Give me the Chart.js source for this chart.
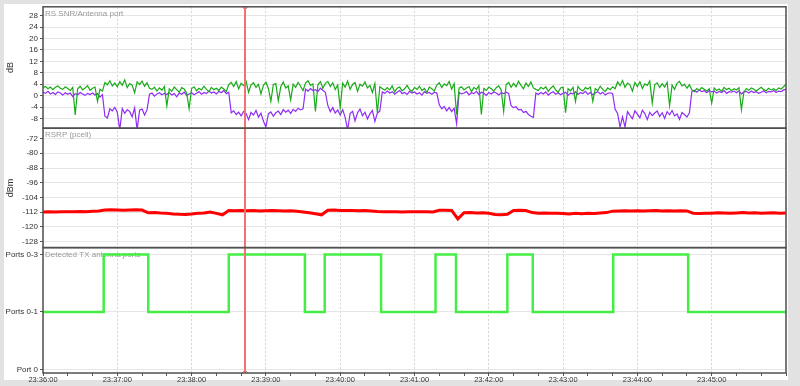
<!DOCTYPE html>
<html>
<head>
<meta charset="utf-8">
<script src="https://cdn.jsdelivr.net/npm/chart.js@4"></script>
<style>
    body { margin: 0; background: #e2e2e2; }
    canvas { display: block; }
</style>
</head>
<body>
<canvas id="trace" width="800" height="386"></canvas>
<script>
// x axis: seconds since 23:36:00
const timeLabels = ['23:36:00', '23:37:00', '23:38:00', '23:39:00', '23:40:00',
    '23:41:00', '23:42:00', '23:43:00', '23:44:00', '23:45:00'];
const snrTicks = [-8, -4, 0, 4, 8, 12, 16, 20, 24, 28];
const rsrpTicks = [-128, -120, -112, -104, -96, -88, -80, -72];
const portLabels = ['Port 0', 'Ports 0-1', 'Ports 0-3'];

const SNR_STEP = 2;   // seconds between snr samples
const RSRP_STEP = 5;  // seconds between rsrp samples

// RS SNR, antenna port 0 (green)
const snrPort0 = [
    2.8, 3.2, 2.4, 3.0, 2.1, 2.9, 3.4, 2.6, 2.2, 3.1,
    2.5, 1.8, 2.9, -6.8, 2.4, 3.3, 2.0, 2.7, 3.5, 1.9,
    2.6, 3.0, -2.0, 2.2, 1.6, 4.6, 3.8, 5.2, 3.4, 4.4,
    3.1, 4.9, 3.6, 5.5, 2.8, 4.2, 3.7, 1.0, 4.8, 3.9,
    5.1, 3.3, 4.5, 2.6, 2.2, 3.0, 1.6, 2.7, 1.9, 3.2,
    -3.6, 2.4, 1.5, 3.0, 2.1, 1.2, 2.8, 2.3, 0.9, -4.6,
    2.5, 3.1, 1.7, 2.6, 2.0, 3.3, 2.2, 1.4, 2.9, 2.1,
    2.6, 1.8, 3.0, 2.3, 1.5, 3.9, 4.6, 3.2, 4.9, 2.4,
    4.3, 3.5, 5.0, 1.2, 3.8, 4.5, 2.9, 4.0, 0.6, 3.6,
    4.7, 2.5, -2.0, 3.9, 4.2, -1.8, 3.1, 4.8, 2.7, 3.4,
    -1.5, 4.0, 2.9, 4.6, 3.3, 1.8, 4.4, 5.2, 3.6, 4.1,
    -5.5, 3.8, 4.9, 2.6, 4.3, 5.0, 3.2, 4.5, 2.1, 3.7,
    -4.3, 4.4, 3.0, 5.1, 2.2, 3.9, 4.6, 1.5, 4.0, 3.3,
    4.8, 2.7, 3.6, 1.1, 4.2, -6.0, 3.1, 2.5, 1.9, 2.8,
    2.0, 3.4, 1.3, 2.6, 3.0, 1.7, 2.4, 3.6, 2.1, 1.5,
    2.9, 2.2, 3.3, 1.8, 2.5, 1.1, 3.0, 2.4, 1.6, 3.7,
    4.5, 2.8, 4.1, 3.5, 5.0, 2.3, 4.2, -6.6, 2.6, 3.1,
    2.0, 2.7, 3.2, 1.4, 2.9, 2.2, 3.5, -6.6, 2.5, 1.8,
    3.0, 2.4, 1.6, 2.8, 3.4, 2.0, -5.5, 3.9, 4.6, 2.9,
    4.3, 3.1, 5.0, 3.6, 2.4, 4.4, 3.2, 4.8, 2.7, 2.2,
    1.8, 2.9, 2.3, 3.1, 1.5, 2.6, 3.4, 2.0, 1.2, 2.7,
    3.0, -6.0, 2.4, 1.7, 2.9, -2.0, 3.2, 2.1, 1.6, 2.8,
    2.3, 3.0, -2.0, 2.5, 1.8, 3.3, 2.2, 1.4, 2.7, 2.1,
    3.1, 2.4, 4.8, 3.5, 5.3, 2.9, 4.4, 3.8, 1.6, 4.6,
    3.2, 4.9, 2.5, 4.1, 3.6, 5.1, -2.6, 3.9, 4.5, 2.8,
    4.2, 3.0, 4.7, -3.5, 3.7, 2.2, 4.3, 5.0, 3.4, 4.0,
    2.6, 3.8, 2.0, 1.4, 2.5, 1.9, 2.8, 2.2, 1.6, 2.4,
    -2.6, 2.7, 1.8, 2.3, 1.5, 2.9, 2.1, 2.6, 1.7, 2.4,
    2.0, 2.8, -4.9, 1.3, 2.5, 1.9, 2.7, 2.2, 1.6, 2.3,
    2.9, 2.1, 1.7, 2.6, 2.0, 2.4, 1.8, 2.7, 2.3, 3.1,
    4.0
];

// RS SNR, antenna port 1 (purple)
const snrPort1 = [
    1.2, 0.8, 1.5, 0.6, 1.1, 0.4, 1.3, 0.9, 0.2, 1.0,
    0.5, 0.9, -0.3, 0.7, 0.3, 1.1, 0.6, 0.1, 0.8, 0.4,
    0.9, 0.2, 0.7, -0.5, 0.4, -7.2, -7.8, -4.6, -5.3, -4.1,
    -5.8, -12.0, -4.5, -6.2, -4.9, -5.6, -7.4, -4.3, -12.0, -5.1,
    -4.7, -6.8, -5.0, 0.5, 0.9, -0.2, 0.6, 1.0, 0.3, 0.8,
    0.4, 1.1, 0.2, 0.7, -0.4, 0.9, 0.5, 1.2, 0.1, 0.6,
    1.0, 0.3, 0.8, 1.4, 0.5, 1.1, 0.7, 1.6, 0.9, 1.3,
    0.6, 1.5, 1.0, 1.8, 0.7, 1.2, -6.0, -5.3, -6.6, -5.8,
    -7.1, -5.5, -6.3, -8.4, -5.9, -6.8, -5.2, -7.5, -6.1, -8.9,
    -11.0, -6.4, -5.7, -7.2, -6.0, -5.4, -6.6, -4.9, -5.8, -5.1,
    -6.2, -4.8, -5.5, -4.4, -5.0, -4.6, 2.3, 1.6, 2.5, 1.8,
    2.1, 1.4, 2.6, 1.9, 1.2, -3.4, -5.6, -4.2, -6.1, -5.0,
    -6.8, -4.9, -7.6, -12.0, -6.3, -5.5, -8.8, -6.0, -4.7, -7.0,
    -5.8, -8.2, -6.4, -5.2, -9.0, -6.1, -5.4, 1.3, 0.8, 1.6,
    0.9, 1.4, 0.5, 1.2, 1.8, 0.7, 1.1, 0.4, 1.5, 0.9,
    1.3, 0.6, 1.0, 0.2, 1.4, 0.8, 1.1, 0.5, 1.2, 0.9,
    -3.2, -4.6, -3.8, -5.3, -4.1, -5.6, -4.4, -9.8, 1.1, 0.6,
    0.9, 1.4, 0.3, 1.0, 0.7, 1.5, 0.4, 1.2, 0.8, 0.1,
    1.1, 0.6, 1.3, 0.9, 0.2, 1.0, 0.7, 1.2, 0.8, -3.5,
    -4.2, -3.9, -5.0, -4.8, -5.9, -5.5, -6.6, -7.2, -7.6, 0.9,
    0.4, 1.1, 0.6, 1.3, 0.2, 0.9, 1.4, 0.5, 1.0, 0.3,
    0.8, 1.2, 0.1, 0.9, 0.6, 1.3, 0.4, 1.0, 0.7, 1.5,
    0.5, 1.1, 0.3, 0.9, 1.4, 0.6, 1.2, 0.2, 0.8, 1.0,
    0.7, -4.8, -6.2, -11.0, -7.4, -11.0, -5.6, -6.9, -8.1, -5.3,
    -6.5, -7.8, -5.1, -6.3, -8.4, -5.8, -7.0, -6.1, -5.4, -7.3,
    -6.0, -8.0, -5.6, -6.7, -5.2, -7.1, -6.4, -8.3, -5.9, -6.6,
    -7.5, -6.0, 1.5, 1.9, 1.2, 2.0, 1.4, 1.7, 1.0, 1.8,
    1.3, 1.6, 0.9, 1.5, 1.1, 1.8, 0.8, 1.4, 1.2, 1.6,
    1.0, 1.7, 0.6, 1.3, 1.5, 0.9, 1.6, 1.1, 1.4, 0.8,
    1.2, 1.7, 1.0, 1.5, 1.3, 1.8, 1.1, 1.6, 1.4, 2.0,
    2.2
];

// RSRP (pcell), dBm
const rsrp = [
    -111.9, -111.8, -111.9, -111.7, -111.8, -111.7, -111.6, -111.7, -111.5, -111.3, -110.8, -110.7,
    -110.8, -110.9, -110.8, -110.7, -110.8, -112.3, -112.2, -112.4, -112.5, -112.9, -113.1, -113.2,
    -113.0, -112.6, -112.4, -111.9, -112.6, -113.4, -111.1, -111.2, -111.1, -111.2, -111.1, -111.3,
    -111.2, -111.1, -111.2, -111.3, -111.2, -111.5, -111.9, -112.3, -112.8, -113.4, -110.9, -110.8,
    -111.0, -111.1, -111.0, -111.2, -111.1, -111.3, -111.6, -111.7, -111.8, -111.7, -111.9, -111.8,
    -111.7, -111.8, -111.7, -111.9, -110.9, -110.9, -111.0, -115.6, -112.3, -112.2, -112.4, -112.3,
    -112.6, -113.2, -113.4, -113.1, -111.0, -110.9, -111.1, -112.2, -112.5, -112.4, -112.6, -112.5,
    -112.7, -112.9, -112.6, -112.8, -112.5, -112.7, -112.4, -112.2, -111.4, -111.3, -111.2, -111.3,
    -111.2, -111.3, -111.2, -111.1, -111.3, -111.2, -111.3, -111.2, -111.3, -112.5, -112.7, -112.6,
    -112.5, -112.3, -112.4, -112.6, -112.4, -112.2, -112.4, -112.3, -112.5, -112.4, -112.3, -112.5,
    -112.4
];

// detected tx antenna ports: state index into portLabels, valid from that time on
const portChangeTimes = [0, 49, 85, 150, 211.5, 227.5, 273, 317, 333.5, 375, 395.5, 460.5, 521, 600];
const portStates      = [1, 2, 1, 2, 1, 2, 1, 2, 1, 2, 1, 2, 1, 1];

const cursorTime = 163;

const FONT = 'Liberation Sans, Arial, sans-serif';

function toPoints(values, step) {
    return values.map((v, i) => ({x: i * step, y: v}));
}

const panelTitles = {
    ySnr: 'RS SNR/Antenna port',
    yRsrp: 'RSRP (pcell)',
    yPorts: 'Detected TX antenna ports'
};

const backgroundPlugin = {
    id: 'background',
    beforeDraw(chart) {
        const ctx = chart.ctx;
        ctx.save();
        ctx.fillStyle = '#e2e2e2';
        ctx.fillRect(0, 0, chart.width, chart.height);
        ctx.fillStyle = '#ffffff';
        ctx.fillRect(4, 4, 784, 376);
        ctx.restore();
    }
};

const panelTitlePlugin = {
    id: 'panelTitles',
    beforeDatasetsDraw(chart) {
        const ctx = chart.ctx;
        ctx.save();
        ctx.font = '8px ' + FONT;
        ctx.fillStyle = '#999999';
        ctx.textBaseline = 'middle';
        for (const id in panelTitles) {
            const s = chart.scales[id];
            ctx.fillText(panelTitles[id], chart.chartArea.left + 2, s.top + 7);
        }
        ctx.restore();
    }
};

const framePlugin = {
    id: 'frames',
    afterDraw(chart) {
        const ctx = chart.ctx;
        const area = chart.chartArea;
        ctx.save();
        ctx.strokeStyle = '#505050';
        ctx.lineWidth = 1.5;
        for (const id in panelTitles) {
            const s = chart.scales[id];
            ctx.strokeRect(area.left, s.top, area.right - area.left, s.bottom - s.top);
        }
        ctx.restore();
    }
};

const cursorPlugin = {
    id: 'cursor',
    afterDatasetsDraw(chart) {
        const ctx = chart.ctx;
        const area = chart.chartArea;
        const x = Math.round(chart.scales.x.getPixelForValue(cursorTime));
        ctx.save();
        ctx.strokeStyle = '#f27272';
        ctx.lineWidth = 2;
        ctx.beginPath();
        ctx.moveTo(x, area.top);
        ctx.lineTo(x, area.bottom);
        ctx.stroke();
        ctx.lineWidth = 1;
        ctx.beginPath();
        ctx.moveTo(x - 3, area.top);
        ctx.lineTo(x, area.top + 3);
        ctx.lineTo(x + 3, area.top);
        ctx.moveTo(x - 3, area.bottom);
        ctx.lineTo(x, area.bottom - 3);
        ctx.lineTo(x + 3, area.bottom);
        ctx.stroke();
        ctx.restore();
    }
};

function yAxis(extra) {
    return Object.assign({
        position: 'left',
        stack: 'panels',
        border: {display: false},
        grid: {color: '#e6e6e6', tickColor: '#555', tickLength: 3, tickBorderDash: []},
        ticks: {color: '#333', font: {family: FONT, size: 8}, padding: 2, autoSkip: false},
        afterFit: (scale) => { scale.width = 43; }
    }, extra);
}

const ctx = document.getElementById('trace').getContext('2d');
const chart = new Chart(ctx, {
    type: 'line',
    data: {
        datasets: [
            {
                label: 'RS SNR port 0',
                data: toPoints(snrPort0, SNR_STEP),
                yAxisID: 'ySnr',
                borderColor: '#18aa18',
                borderWidth: 1.2,
                pointRadius: 0
            },
            {
                label: 'RS SNR port 1',
                data: toPoints(snrPort1, SNR_STEP),
                yAxisID: 'ySnr',
                borderColor: '#8f2cf5',
                borderWidth: 1.2,
                pointRadius: 0
            },
            {
                label: 'RSRP',
                data: toPoints(rsrp, RSRP_STEP),
                yAxisID: 'yRsrp',
                borderColor: '#ff0000',
                borderWidth: 3,
                pointRadius: 0
            },
            {
                label: 'Detected TX antenna ports',
                data: portChangeTimes.map((t, i) => ({x: t, y: portStates[i]})),
                yAxisID: 'yPorts',
                stepped: 'before',
                borderColor: '#44ee44',
                borderWidth: 2.5,
                pointRadius: 0
            }
        ]
    },
    options: {
        responsive: false,
        animation: false,
        events: [],
        layout: {padding: {left: 0, right: 14, top: 5, bottom: 0}},
        plugins: {
            legend: {display: false},
            tooltip: {enabled: false}
        },
        scales: {
            x: {
                type: 'linear',
                min: 0,
                max: 600,
                border: {display: false, dash: [2, 2]},
                grid: {
                    color: (c) => (c.tick && c.tick.value % 60 === 0) ? '#d4d4d4' : 'rgba(0,0,0,0)',
                    tickColor: '#555',
                    tickLength: 3,
                    tickBorderDash: []
                },
                ticks: {
                    stepSize: 20,
                    autoSkip: false,
                    maxRotation: 0,
                    padding: -1,
                    color: '#333',
                    font: {family: FONT, size: 7.5},
                    callback: (v) => (v % 60 === 0 && timeLabels[v / 60]) ? timeLabels[v / 60] : ''
                },
                afterFit: (scale) => { scale.height = 13; }
            },
            ySnr: yAxis({
                weight: 3,
                stackWeight: 122,
                min: -11.4,
                max: 31.1,
                title: {display: true, text: 'dB', color: '#333', font: {family: FONT, size: 9}, padding: {top: 5, bottom: 0}},
                afterBuildTicks: (scale) => { scale.ticks = snrTicks.map(v => ({value: v})); }
            }),
            yRsrp: yAxis({
                weight: 2,
                stackWeight: 120,
                min: -131.2,
                max: -66.4,
                title: {display: true, text: 'dBm', color: '#333', font: {family: FONT, size: 9}, padding: {top: 5, bottom: 0}},
                afterBuildTicks: (scale) => { scale.ticks = rsrpTicks.map(v => ({value: v})); }
            }),
            yPorts: yAxis({
                weight: 1,
                stackWeight: 126,
                min: -0.064,
                max: 2.12,
                afterBuildTicks: (scale) => { scale.ticks = portLabels.map((l, i) => ({value: i})); },
                ticks: {
                    color: '#333', font: {family: FONT, size: 8}, padding: 2, autoSkip: false,
                    callback: (v) => portLabels[v]
                }
            })
        }
    },
    plugins: [backgroundPlugin, panelTitlePlugin, framePlugin, cursorPlugin]
});
</script>
</body>
</html>
